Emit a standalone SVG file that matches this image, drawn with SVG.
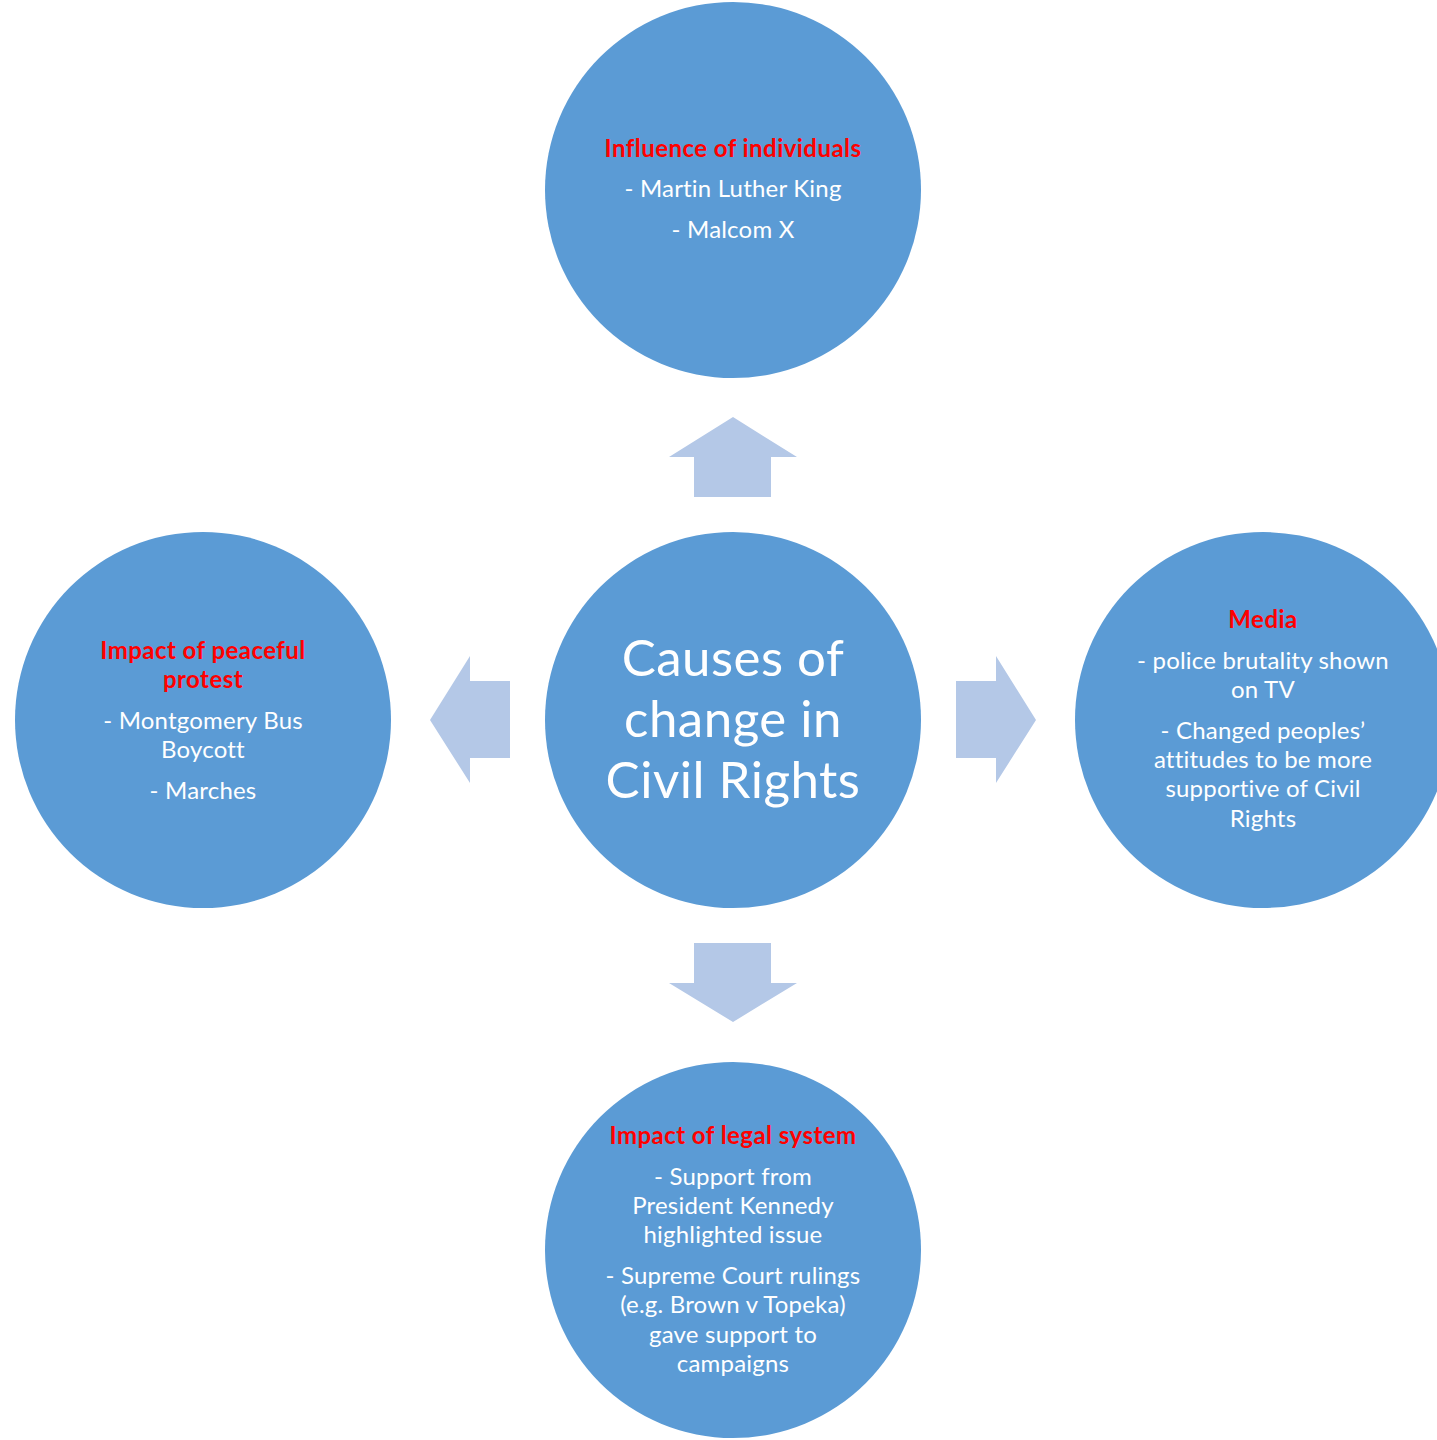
<svg xmlns="http://www.w3.org/2000/svg" width="1437" height="1440" viewBox="0 0 1437 1440">
<style>
.c{fill:#5B9BD5}
.a{fill:#B4C8E7}
text{font-family:Lato,"Open Sans","Liberation Sans",sans-serif;text-anchor:middle;fill:#FFFFFF;font-size:24px;letter-spacing:0.2px}
.h{fill:#FF0000;font-weight:bold;letter-spacing:0.45px}
.big{font-size:51px;letter-spacing:0.5px}
</style>
<rect width="1437" height="1440" fill="#FFFFFF"/>
<g id="connectors">
<polygon class="a" points="733,417 797,457 771,457 771,497 694,497 694,457 669,457"/>
<polygon class="a" points="430,720 470,656 470,681 510,681 510,758 470,758 470,783"/>
<polygon class="a" points="1036,720 996,656 996,681 956,681 956,758 996,758 996,783"/>
<polygon class="a" points="733,1022 797,983 771,983 771,943 694,943 694,983 669,983"/>
</g>
<g id="center">
<circle class="c" cx="733" cy="720" r="188"/>
<text class="big" x="733" y="676">Causes of</text>
<text class="big" x="733" y="737">change in</text>
<text class="big" x="733" y="798">Civil Rights</text>
</g>
<g id="top">
<circle class="c" cx="733" cy="190" r="188"/>
<text class="h" x="733" y="157">Influence of individuals</text>
<text x="733" y="197">- Martin Luther King</text>
<text x="733" y="238">- Malcom X</text>
</g>
<g id="left">
<circle class="c" cx="203" cy="720" r="188"/>
<text class="h" x="203" y="659">Impact of peaceful</text>
<text class="h" x="203" y="688">protest</text>
<text x="203" y="729">- Montgomery Bus</text>
<text x="203" y="758">Boycott</text>
<text x="203" y="799">- Marches</text>
</g>
<g id="right">
<circle class="c" cx="1263" cy="720" r="188"/>
<text class="h" x="1263" y="628">Media</text>
<text x="1263" y="669">- police brutality shown</text>
<text x="1263" y="698">on TV</text>
<text x="1263" y="739">- Changed peoples’</text>
<text x="1263" y="768">attitudes to be more</text>
<text x="1263" y="797">supportive of Civil</text>
<text x="1263" y="827">Rights</text>
</g>
<g id="bottom">
<circle class="c" cx="733" cy="1250" r="188"/>
<text class="h" x="733" y="1144">Impact of legal system</text>
<text x="733" y="1185">- Support from</text>
<text x="733" y="1214">President Kennedy</text>
<text x="733" y="1243">highlighted issue</text>
<text x="733" y="1284">- Supreme Court rulings</text>
<text x="733" y="1313">(e.g. Brown v Topeka)</text>
<text x="733" y="1343">gave support to</text>
<text x="733" y="1372">campaigns</text>
</g>
</svg>
